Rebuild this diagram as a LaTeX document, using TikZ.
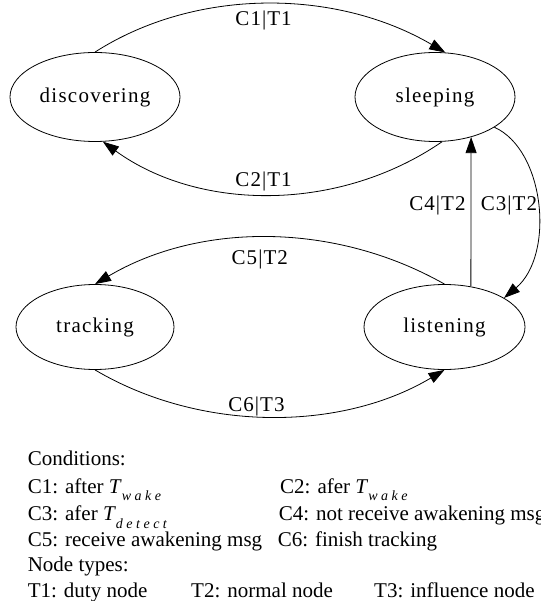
\documentclass[tikz,border=0pt]{standalone}
\usepackage{fontspec}
\setmainfont{Liberation Serif}
\usetikzlibrary{arrows.meta,shapes.geometric}
\newcommand\Tsub[1]{\textit{T}\raisebox{-0.35em}{\fontsize{14}{14}\selectfont\itshape\addfontfeatures{LetterSpace=25}#1}}
\begin{document}
\begin{tikzpicture}[x=1pt,y=-1pt,
  state/.style={ellipse,draw,line width=0.8pt,inner sep=0pt,
    font=\fontsize{21}{21}\selectfont\addfontfeatures{LetterSpace=6}},
  edgelab/.style={inner sep=0pt,font=\fontsize{21}{21}\selectfont\addfontfeatures{LetterSpace=5}},
  legend/.style={anchor=base west,inner sep=0pt,font=\fontsize{21}{21}\selectfont},
  trans/.style={line width=0.8pt,-{Triangle[length=16pt,width=11pt]}}]
\useasboundingbox (0,0) rectangle (540,601);
\node[state,minimum width=170pt,minimum height=89pt] (disc) at (95,97) {discovering};
\node[state,minimum width=160pt,minimum height=89pt] (sleep) at (435,97) {sleeping};
\node[state,minimum width=158pt,minimum height=85pt] (track) at (95,327) {tracking};
\node[state,minimum width=161pt,minimum height=85pt] (list) at (444.5,327) {listening};
% transitions
\draw[trans] (disc.north) .. controls (195,-12) and (335,-12) .. (sleep.77);
\draw[trans] (sleep.-81) .. controls (340,212) and (200,212) .. (disc.-80);
\draw[trans] (list.57.7) -- (sleep.-48.8);
\draw[trans] (sleep.-27) .. controls (545,150) and (555,255) .. (list.26.8);
\draw[trans] (list.north) .. controls (335,222) and (200,222) .. (track.north);
\draw[trans] (track.south) .. controls (200,432) and (340,432) .. (list.south);
% edge labels
\node[edgelab] (l1) at (263.6,20) {C1|T1};
\node[edgelab] (l2) at (263.6,181) {C2|T1};
\node[edgelab] (l4) at (437.5,205) {C4|T2};
\node[edgelab] (l3) at (509,205) {C3|T2};
\node[edgelab] (l5) at (259.8,259.5) {C5|T2};
\node[edgelab] (l6) at (256.5,406.5) {C6|T3};
% legend
\node[legend] (cond) at (27.6,465) {Conditions:};
\node[legend] (c1) at (27.6,493) {C1: after \Tsub{wake}};
\node[legend] (c2) at (280,493) {C2: afer \Tsub{wake}};
\node[legend] (c3) at (27.6,520.7) {C3: afer \Tsub{detect}};
\node[legend] (c4) at (278.6,520.7) {C4: not receive awakening msg};
\node[legend] (c5) at (27.6,546.6) {C5: receive awakening msg};
\node[legend] (c6) at (277.6,546.6) {C6: finish tracking};
\node[legend] (nt) at (27.6,571.4) {Node types:};
\node[legend] (t1) at (27.6,597) {T1: duty node};
\node[legend] (t2) at (191,597) {T2: normal node};
\node[legend] (t3) at (374,597) {T3: influence node};
\end{tikzpicture}
\end{document}
